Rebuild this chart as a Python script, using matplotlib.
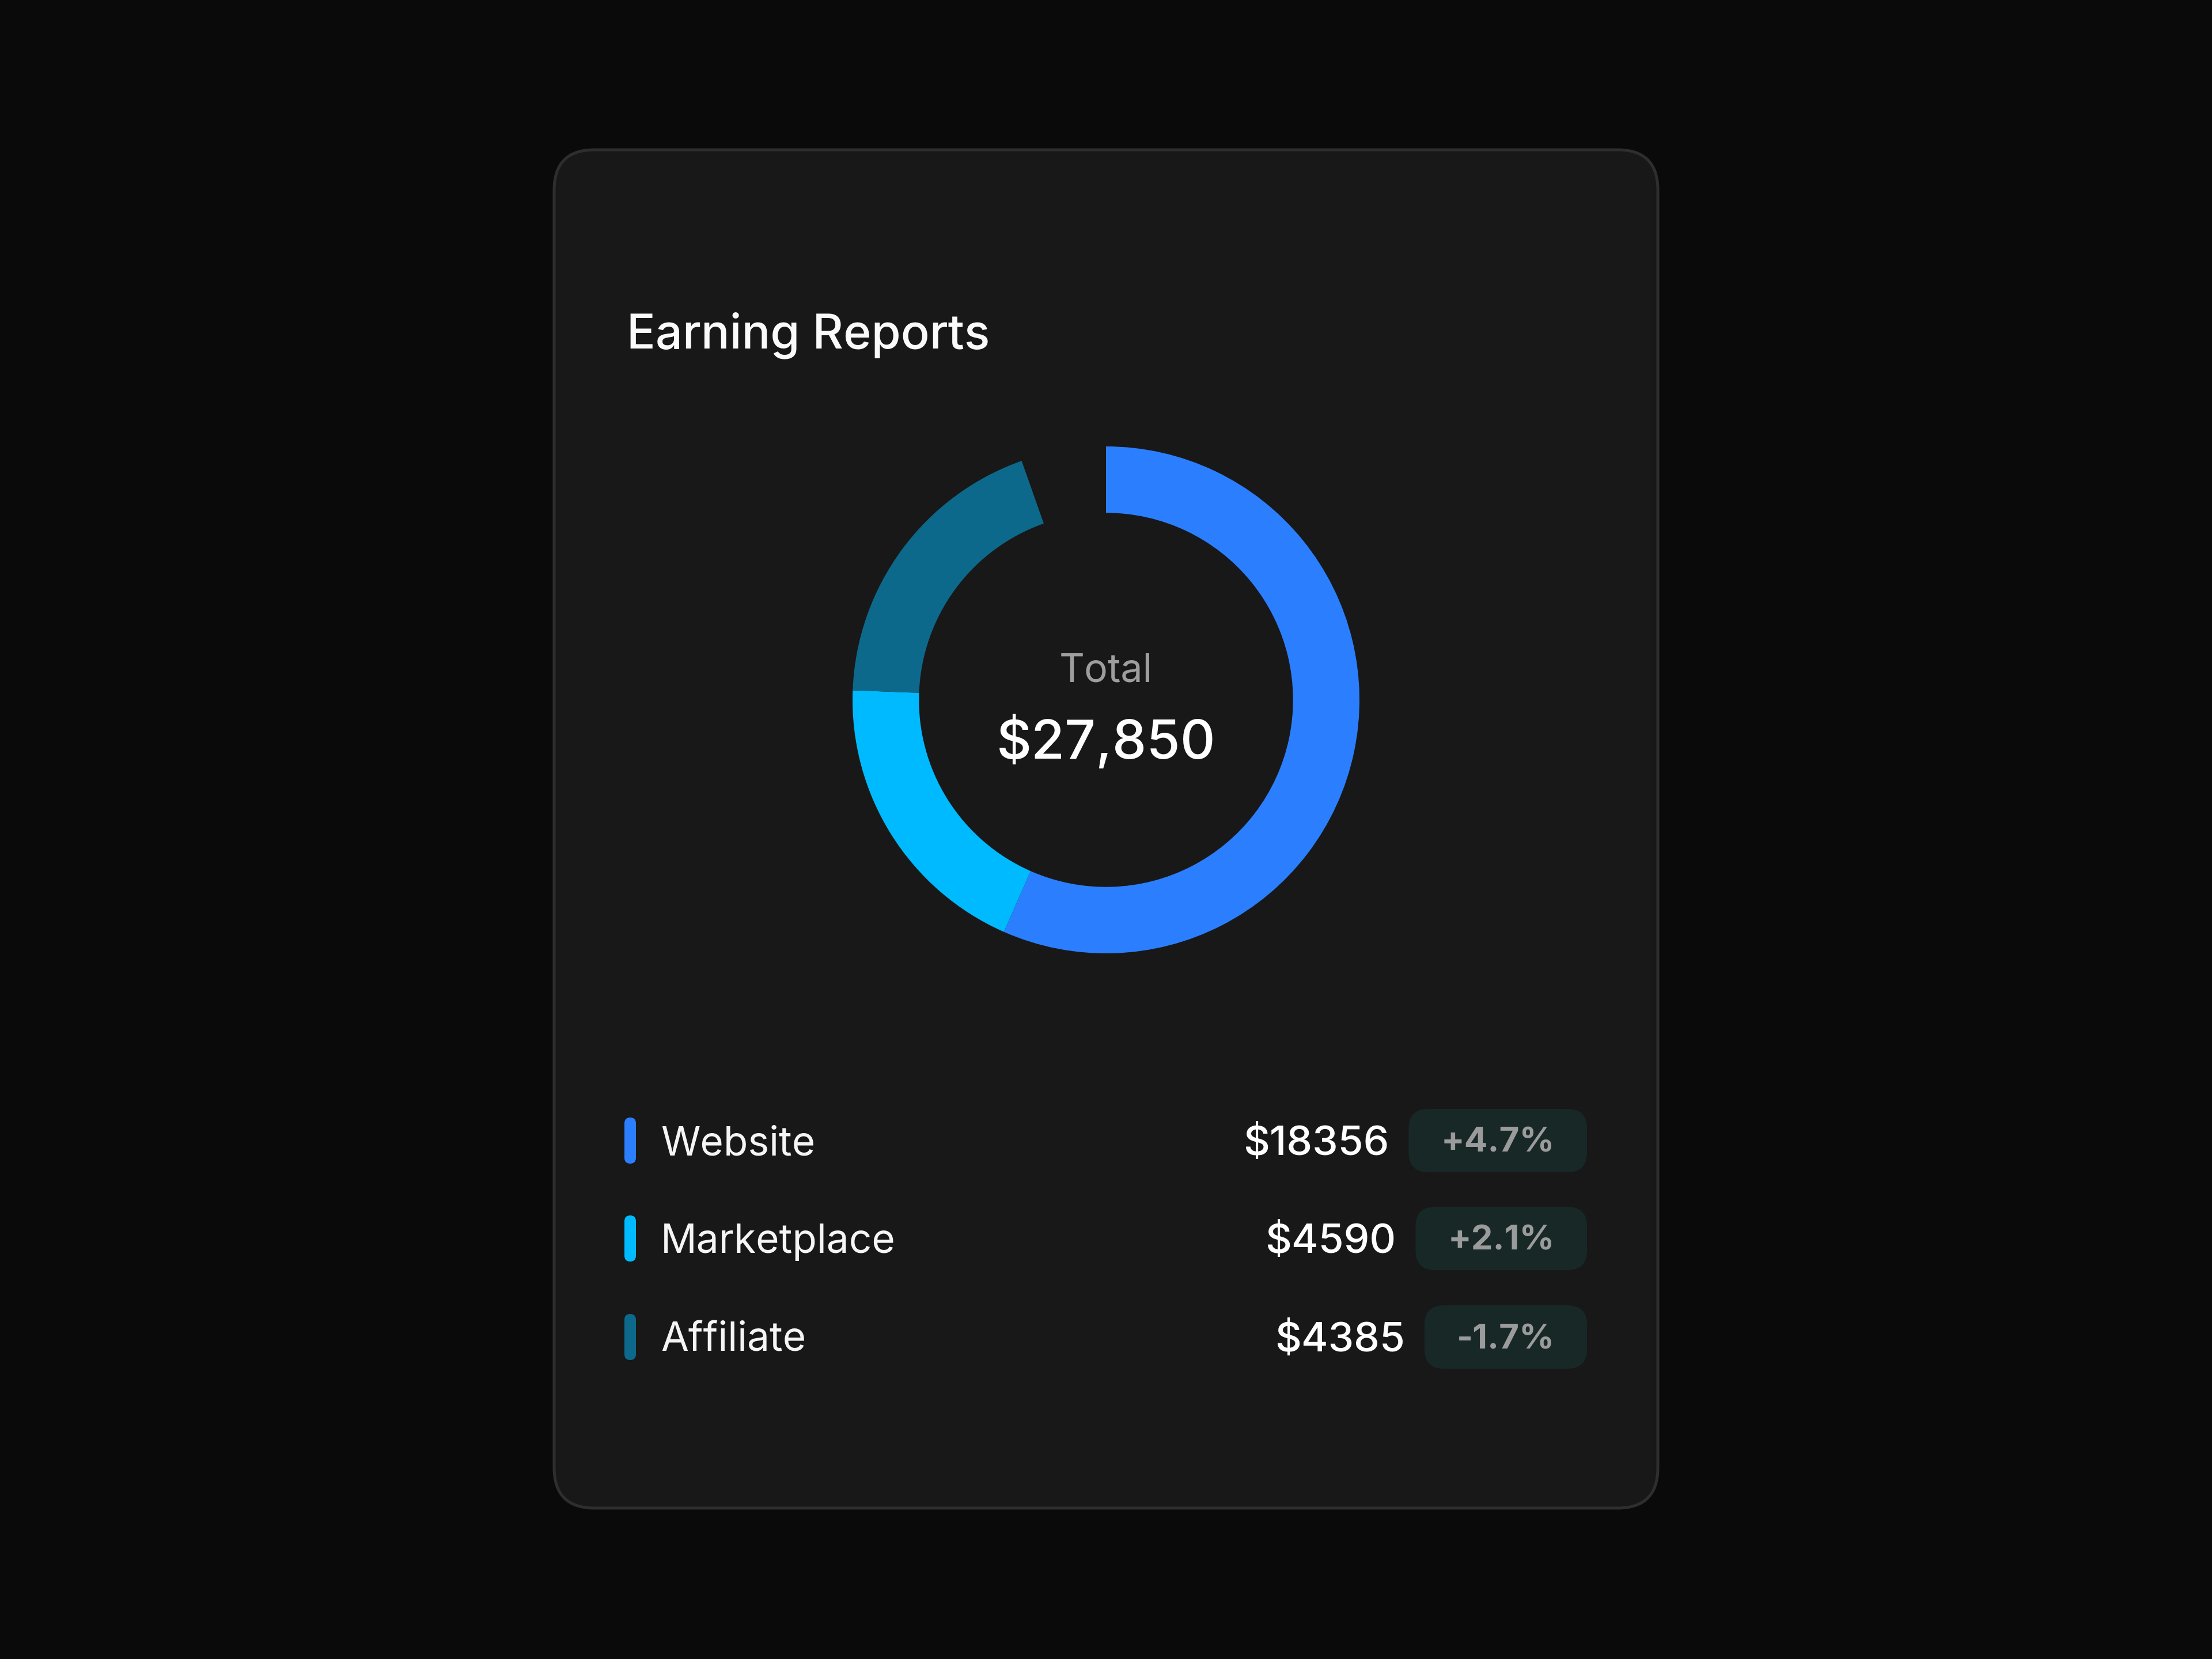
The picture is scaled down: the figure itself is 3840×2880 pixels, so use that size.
import matplotlib
matplotlib.use("Agg")
import matplotlib.pyplot as plt
from matplotlib.patches import FancyBboxPatch

# data
sources = ['Website', 'Marketplace', 'Affiliate']
amounts = [18356, 4590, 4385]
changes = ['+4.7%', '+2.1%', '-1.7%']
ring_share = [56.6, 19.0, 19.0]   # share of the ring (percent of full circle)
ring_gap = 5.4                    # empty part at the top
total = 27850
colors = ['#2B7FFF', '#00BAFF', '#0D698B']

plt.rcParams['font.family'] = ['Inter', 'DejaVu Sans']

W, H = 3840, 2880
fig = plt.figure(figsize=(9.6, 7.2), dpi=400, facecolor='#0A0A0A')
ax = fig.add_axes([0, 0, 1, 1])
ax.set_xlim(0, W)
ax.set_ylim(H, 0)
ax.axis('off')

# card
ax.add_patch(FancyBboxPatch((962, 260), 1916, 2358, boxstyle='round,pad=0,rounding_size=70',
                            facecolor='#181818', edgecolor='#2E2E2E', linewidth=0.9))

ax.text(1088, 604, 'Earning Reports', fontsize=14.9, color='#FAFAFA', weight='medium', va='baseline', ha='left')

# donut
cx, cy, R = 1920, 1215, 440
pax = fig.add_axes([(cx - R) / W, 1 - (cy + R) / H, 2 * R / W, 2 * R / H])
pax.pie(ring_share + [ring_gap], colors=colors + ['none'], startangle=90, counterclock=False,
        radius=1, wedgeprops=dict(width=0.262, linewidth=0))
pax.set_xlim(-1, 1)
pax.set_ylim(-1, 1)
pax.set_aspect('equal')
pax.axis('off')

ax.text(cx, 1183, 'Total', fontsize=12.3, color='#9E9E9E', ha='center', va='baseline')
ax.text(cx, 1317, '${:,}'.format(total), fontsize=17.0, color='#FFFFFF', weight='medium', ha='center', va='baseline')

# legend rows
row_mid = [1980, 2150, 2321]
baselines = [2005, 2175, 2346]
badge_base = [2000, 2170, 2341]
badge_right = 2755
badge_h = 110
pad = 56
gap = 34

fig.canvas.draw()
renderer = fig.canvas.get_renderer()

for i in range(len(sources)):
    ax.add_patch(FancyBboxPatch((1084, row_mid[i] - 40), 20, 80, boxstyle='round,pad=0,rounding_size=10',
                                facecolor=colors[i], edgecolor='none'))
    ax.text(1147, baselines[i], sources[i], fontsize=12.5, color='#F5F5F5', va='baseline', ha='left')

    t = ax.text(0, badge_base[i], changes[i], fontsize=10.8, color='#9B9B9B', weight='bold',
                va='baseline', ha='center', zorder=3)
    tw = t.get_window_extent(renderer=renderer).width
    bw = tw + 2 * pad
    bx = badge_right - bw
    t.set_x(bx + bw / 2)
    ax.add_patch(FancyBboxPatch((bx, row_mid[i] - badge_h / 2), bw, badge_h,
                                boxstyle='round,pad=0,rounding_size=34',
                                facecolor='#172827', edgecolor='none', zorder=2))
    ax.text(bx - gap, baselines[i], '$' + str(amounts[i]), fontsize=12.8, color='#FFFFFF', weight='medium',
            va='baseline', ha='right')

fig.savefig('out.png', dpi=400, facecolor=fig.get_facecolor())
